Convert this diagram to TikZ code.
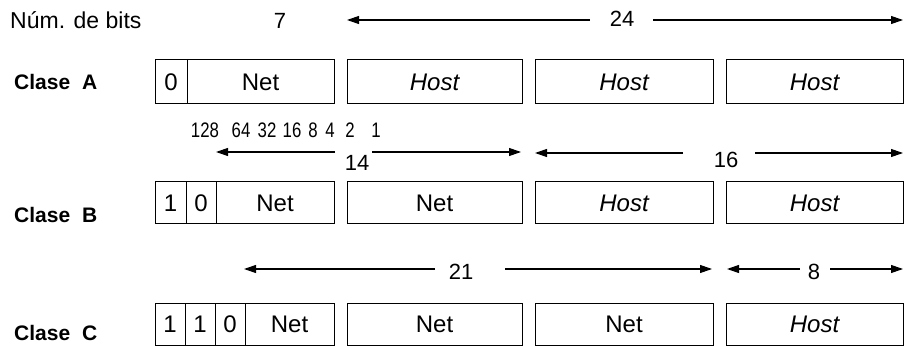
\documentclass[tikz,border=0pt]{standalone}
\usepackage{fontspec}
\setmainfont{Liberation Sans}
\newfontfamily\condfont[FakeStretch=0.8]{Liberation Sans}
\usetikzlibrary{arrows.meta}
\begin{document}
\begin{tikzpicture}[x=1pt,y=-1pt,
  cell/.style={draw, line width=1pt, inner sep=0pt, outer sep=0pt, font=\fontsize{24}{24}\selectfont},
  hcell/.style={cell, font=\fontsize{24}{24}\selectfont\itshape},
  lbl/.style={font=\fontsize{22}{22}\selectfont, inner sep=0pt},
  wgt/.style={font=\fontsize{21}{21}\condfont, inner sep=0pt},
  cls/.style={font=\fontsize{21}{21}\selectfont\bfseries, inner sep=0pt, anchor=west},
  dim/.style={line width=1.1pt, -{Triangle[length=12pt,width=8pt]}}
]
\useasboundingbox (0,0) rectangle (904,347);

% header
\node[lbl, anchor=west, font=\fontsize{23}{23}\selectfont] (hdr) at (10,20) {Núm. de bits};
\node[lbl] (n7) at (280,21) {7};
\node[lbl] (n24) at (622,19) {24};
\coordinate (t24L) at (347,20); \coordinate (e24L) at (590,20);
\coordinate (t24R) at (903,20); \coordinate (e24R) at (653,20);
\draw[dim] (e24L) -- (t24L);
\draw[dim] (e24R) -- (t24R);

% Class A
\node[cls] (clA) at (14,82) {Clase\hspace{12pt}A};
\node[cell, minimum width=32, minimum height=44] (a0) at (171,82) {0};
\node[cell, minimum width=147, minimum height=44] (a1) at (260.5,82) {Net};
\node[hcell, minimum width=175, minimum height=44] (a2) at (434.5,82) {Host};
\node[hcell, minimum width=178, minimum height=44] (a3) at (624,82) {Host};
\node[hcell, minimum width=177, minimum height=44] (a4) at (814.5,82) {Host};

% bit weights
\node[wgt] (w128) at (205,130) {128};
\node[wgt] (w64) at (241,130) {64};
\node[wgt] (w32) at (267,130) {32};
\node[wgt] (w16) at (292,130) {16};
\node[wgt] (w8) at (313,130) {8};
\node[wgt] (w4) at (330,130) {4};
\node[wgt] (w2) at (350,130) {2};
\node[wgt] (w1) at (376,130) {1};

% 14 / 16
\node[lbl] (n14) at (357,163) {14};
\coordinate (t14L) at (216,152); \coordinate (e14L) at (335,152);
\coordinate (t14R) at (521,152); \coordinate (e14R) at (372,152);
\draw[dim] (e14L) -- (t14L);
\draw[dim] (e14R) -- (t14R);
\node[lbl] (n16) at (726,160) {16};
\coordinate (t16L) at (535,153); \coordinate (e16L) at (683,153);
\coordinate (t16R) at (903,153); \coordinate (e16R) at (755,153);
\draw[dim] (e16L) -- (t16L);
\draw[dim] (e16R) -- (t16R);

% Class B
\node[cls] (clB) at (14,215) {Clase\hspace{12pt}B};
\node[cell, minimum width=31, minimum height=42] (b0) at (170.5,203) {1};
\node[cell, minimum width=30, minimum height=42] (b1) at (201,203) {0};
\node[cell, minimum width=118, minimum height=42] (b2) at (275,203) {Net};
\node[cell, minimum width=175, minimum height=42] (b3) at (434.5,203) {Net};
\node[hcell, minimum width=178, minimum height=42] (b4) at (624,203) {Host};
\node[hcell, minimum width=177, minimum height=42] (b5) at (814.5,203) {Host};

% 21 / 8
\node[lbl] (n21) at (461,272) {21};
\coordinate (t21L) at (244,269); \coordinate (e21L) at (435,269);
\coordinate (t21R) at (712,269); \coordinate (e21R) at (505,269);
\draw[dim] (e21L) -- (t21L);
\draw[dim] (e21R) -- (t21R);
\node[lbl] (n8) at (814,272) {8};
\coordinate (t8L) at (727,269); \coordinate (e8L) at (800,269);
\coordinate (t8R) at (903,269); \coordinate (e8R) at (830,269);
\draw[dim] (e8L) -- (t8L);
\draw[dim] (e8R) -- (t8R);

% Class C
\node[cls] (clC) at (14,333) {Clase\hspace{12pt}C};
\node[cell, minimum width=30, minimum height=42] (c0) at (170,324) {1};
\node[cell, minimum width=30, minimum height=42] (c1) at (200,324) {1};
\node[cell, minimum width=30, minimum height=42] (c2) at (230,324) {0};
\node[cell, minimum width=89, minimum height=42] (c3) at (289.5,324) {Net};
\node[cell, minimum width=175, minimum height=42] (c4) at (434.5,324) {Net};
\node[cell, minimum width=178, minimum height=42] (c5) at (624,324) {Net};
\node[hcell, minimum width=177, minimum height=42] (c6) at (814.5,324) {Host};
\end{tikzpicture}
\end{document}
